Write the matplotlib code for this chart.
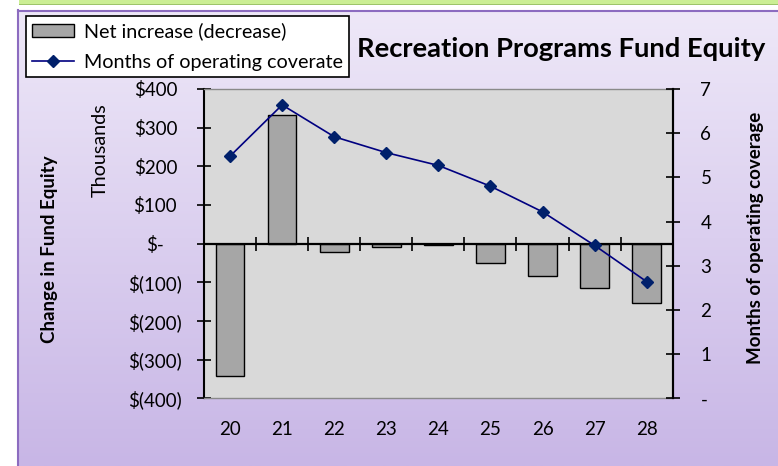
import numpy as np
import matplotlib.pyplot as plt
from matplotlib.patches import Rectangle
from matplotlib.lines import Line2D
from matplotlib.colors import LinearSegmentedColormap

plt.rcParams['font.family'] = ['Lato', 'DejaVu Sans']

# fiscal years (two-digit) and the two series
years = ['20', '21', '22', '23', '24', '25', '26', '27', '28']
net_change = [-343, 334, -22, -9, -4, -50, -84, -116, -153]   # $ thousands
months_coverage = [5.48, 6.64, 5.92, 5.56, 5.27, 4.80, 4.22, 3.46, 2.64]

money_ticks = [-400, -300, -200, -100, 0, 100, 200, 300, 400]
money_labels = ['$(400)', '$(300)', '$(200)', '$(100)', '$-', '$100', '$200', '$300', '$400']
month_ticks = [0, 1, 2, 3, 4, 5, 6, 7]
month_labels = ['-', '1', '2', '3', '4', '5', '6', '7']

W, H = 778, 466
fig = plt.figure(figsize=(W / 100, H / 100), dpi=100, facecolor='white')

# background: green strip on top, lavender gradient panel below
bg = fig.add_axes([0, 0, 1, 1], zorder=-5)
bg.set_xlim(0, W)
bg.set_ylim(H, 0)
bg.axis('off')
bg.add_patch(Rectangle((19, 0), W - 19, 4, facecolor='#cbee94', edgecolor='none'))
bg.add_patch(Rectangle((19, 3.5), W - 19, 1.5, facecolor='#9dc46a', edgecolor='none'))
lav = LinearSegmentedColormap.from_list('lav', ['#eee8f8', '#c8b6e6'])
grad = np.linspace(0, 1, 256).reshape(-1, 1)
bg.imshow(grad, cmap=lav, aspect='auto', extent=(18, W, H, 10))
bg.plot([18.5, 18.5], [10, H], color='#8c6cc0', lw=1.5)
bg.plot([18, W], [10.5, 10.5], color='#8c6cc0', lw=1.5)

fs = 13.5

# main plot area
x0, x1, y0, y1 = 204, 672.7, 89, 398.3
ax = fig.add_axes([x0 / W, 1 - y1 / H, (x1 - x0) / W, (y1 - y0) / H])
ax.set_facecolor('#d9d9d9')
x = np.arange(len(years))
ax.bar(x, net_change, width=0.55, color='#a6a6a6', edgecolor='black', linewidth=1.0, zorder=2)
ax.axhline(0, color='black', lw=1.6, zorder=3)
# category dividers crossing the zero line
ax.plot(x[:-1] + 0.5, np.zeros(len(x) - 1), linestyle='none', marker='|',
        markersize=10, markeredgewidth=1.2, color='black', zorder=3)
ax.set_xlim(-0.5, len(years) - 0.5)
ax.set_ylim(-400, 400)
ax.set_yticks(money_ticks)
ax.set_yticklabels(money_labels)
ax.tick_params(axis='y', direction='inout', length=10, width=1.2, pad=30, labelsize=fs)
for lbl in ax.get_yticklabels():
    lbl.set_horizontalalignment('center')
ax.set_xticks(x)
ax.set_xticklabels(years)
ax.tick_params(axis='x', length=0, pad=16, labelsize=fs)
for side in ['top', 'bottom']:
    ax.spines[side].set_color('#8a8a8a')
    ax.spines[side].set_linewidth(1.0)
ax.spines['left'].set_linewidth(1.5)
ax.spines['right'].set_linewidth(1.5)

# months of coverage on the secondary axis
ax2 = ax.twinx()
ax2.plot(x, months_coverage, color='#000080', lw=1.2, marker='D', markersize=6,
         markerfacecolor='#00206b', markeredgecolor='#00206b', zorder=4)
ax2.set_ylim(0, 7)
ax2.set_yticks(month_ticks)
ax2.set_yticklabels(month_labels)
ax2.tick_params(axis='y', direction='inout', length=10, width=1.2, pad=15, labelsize=fs)
ax2.spines['right'].set_linewidth(1.5)
for side in ['top', 'bottom', 'left']:
    ax2.spines[side].set_visible(False)

# legend
handles = [Rectangle((0, 0), 1, 1, facecolor='#a6a6a6', edgecolor='black', lw=1.0),
           Line2D([], [], color='#000080', lw=1.2, marker='D', markersize=6,
                  markerfacecolor='#00206b', markeredgecolor='#00206b')]
leg = fig.legend(handles, ['Net increase (decrease)', 'Months of operating coverate'],
                 loc='upper left', bbox_to_anchor=(26 / W, 1 - 16 / H), borderaxespad=0,
                 fontsize=14.2, frameon=True, fancybox=False, framealpha=1,
                 edgecolor='black', handlelength=2.1, handleheight=0.6,
                 handletextpad=0.5, labelspacing=0.68, borderpad=0.32)
leg.get_frame().set_linewidth(1.2)

fig.text(561 / W, 1 - 49 / H, 'Recreation Programs Fund Equity', ha='center', va='center',
         fontsize=19.7, fontweight='bold')
fig.text(50 / W, 1 - 249 / H, 'Change in Fund Equity', rotation=90, ha='center', va='center',
         fontsize=fs, fontweight='bold')
fig.text(100 / W, 1 - 150 / H, 'Thousands', rotation=90, ha='center', va='center', fontsize=14.2)
fig.text(755 / W, 1 - 238 / H, 'Months of operating coverage', rotation=90, ha='center',
         va='center', fontsize=fs, fontweight='bold')

fig.savefig('out.png', dpi=100)
